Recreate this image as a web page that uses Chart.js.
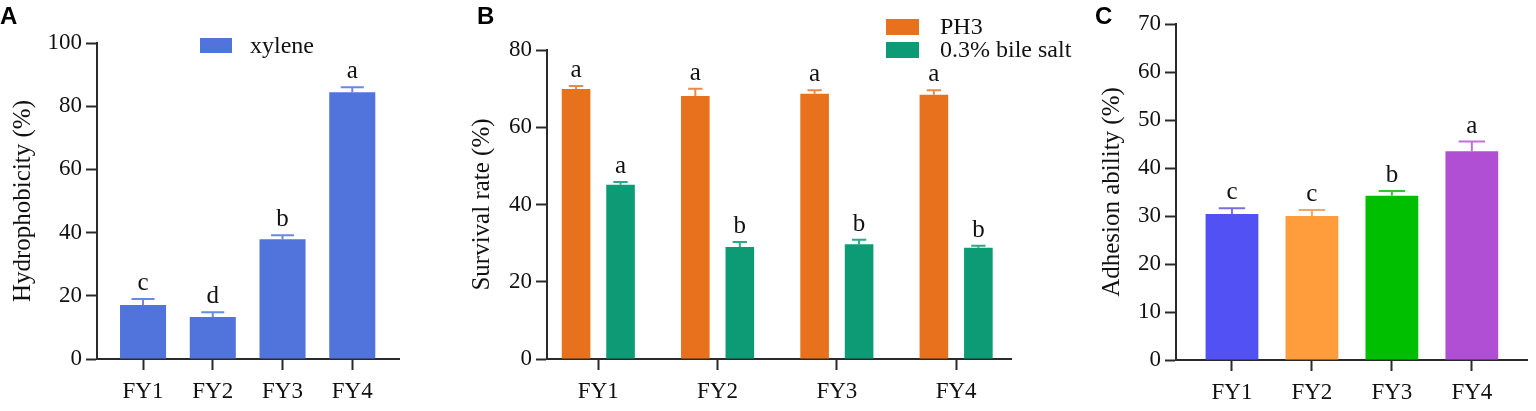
<!DOCTYPE html>
<html><head><meta charset="utf-8">
<script src="https://cdn.jsdelivr.net/npm/chart.js@4.4.1/dist/chart.umd.min.js"></script>
<style>
html,body{margin:0;padding:0;background:#fff;width:1536px;height:411px;overflow:hidden}
canvas{position:absolute;top:0}
</style></head><body>
<canvas id="cA" width="462" height="411" style="left:0px"></canvas>
<canvas id="cB" width="630" height="411" style="left:462px"></canvas>
<canvas id="cC" width="444" height="411" style="left:1092px"></canvas>
<script>
// ---------- data ----------
const categories = ['FY1', 'FY2', 'FY3', 'FY4'];

const hydroMeans   = [17.1, 13.3, 37.9, 84.4];
const hydroErrors  = [1.9, 1.5, 1.3, 1.6];
const hydroLetters = ['c', 'd', 'b', 'a'];
const hydroTicks   = [0, 20, 40, 60, 80, 100];

const ph3Means    = [69.9, 68.1, 68.7, 68.4];
const ph3Errors   = [0.8, 1.9, 0.9, 1.2];
const ph3Letters  = ['a', 'a', 'a', 'a'];
const bileMeans   = [45.1, 29.0, 29.7, 28.8];
const bileErrors  = [0.7, 1.3, 1.2, 0.5];
const bileLetters = ['a', 'b', 'b', 'b'];
const survivalTicks = [0, 20, 40, 60, 80];

const adhesionMeans   = [30.4, 30.0, 34.2, 43.5];
const adhesionErrors  = [1.2, 1.25, 1.0, 2.0];
const adhesionLetters = ['c', 'c', 'b', 'a'];
const adhesionTicks   = [0, 10, 20, 30, 40, 50, 60, 70];

// ---------- styles ----------
const SERIF = '"Liberation Serif", "Times New Roman", serif';
const AXIS = '#2a2a2a';
const toXY = arr => arr.map((v, i) => ({ x: i, y: v }));

const errorLetters = {
  id: 'errorLetters',
  afterDatasetsDraw(chart) {
    const ctx = chart.ctx, ys = chart.scales.y;
    chart.data.datasets.forEach((ds, di) => {
      const meta = chart.getDatasetMeta(di);
      meta.data.forEach((bar, i) => {
        const top = ys.getPixelForValue(ds.data[i].y + ds.errors[i]);
        const half = bar.width * 0.25;
        const col = Array.isArray(ds.errorColor) ? ds.errorColor[i] : ds.errorColor;
        ctx.save();
        ctx.strokeStyle = col; ctx.lineWidth = 2;
        ctx.beginPath();
        ctx.moveTo(bar.x, bar.y); ctx.lineTo(bar.x, top);
        ctx.moveTo(bar.x - half, top); ctx.lineTo(bar.x + half, top);
        ctx.stroke();
        ctx.fillStyle = '#111';
        ctx.font = '25px ' + SERIF;
        ctx.textAlign = 'center'; ctx.textBaseline = 'alphabetic';
        ctx.fillText(ds.letters[i], bar.x, top - 9);
        ctx.restore();
      });
    });
  }
};

const boxLegend = {
  id: 'boxLegend',
  afterDraw(chart, args, o) {
    if (!o || !o.show) return;
    const ctx = chart.ctx;
    chart.data.datasets.forEach((ds, i) => {
      const y0 = o.y + i * o.rowH;
      ctx.save();
      ctx.fillStyle = Array.isArray(ds.backgroundColor) ? ds.backgroundColor[0] : ds.backgroundColor;
      ctx.fillRect(o.x, y0, o.boxW, o.boxH);
      ctx.fillStyle = '#111';
      ctx.font = '24px ' + SERIF;
      ctx.textAlign = 'left'; ctx.textBaseline = 'middle';
      ctx.fillText(ds.label, o.x + o.boxW + o.gap, y0 + o.boxH / 2 + 1);
      ctx.restore();
    });
  }
};

const panelLabel = {
  id: 'panelLabel',
  afterDraw(chart, args, o) {
    if (!o || !o.text) return;
    const ctx = chart.ctx;
    ctx.save();
    ctx.fillStyle = '#000';
    ctx.font = 'bold 24px "Liberation Sans", Arial, sans-serif';
    ctx.textAlign = 'left'; ctx.textBaseline = 'alphabetic';
    ctx.fillText(o.text, o.x, o.y);
    ctx.restore();
  }
};

function makeChart(id, cfg) {
  return new Chart(document.getElementById(id), {
    type: 'bar',
    data: { datasets: cfg.datasets },
    options: {
      responsive: false, animation: false, devicePixelRatio: 1,
      layout: { padding: cfg.padding },
      plugins: {
        legend: { display: false }, tooltip: { enabled: false },
        boxLegend: cfg.legend || { show: false },
        panelLabel: cfg.panel
      },
      scales: {
        x: {
          type: 'linear', position: 'bottom', min: cfg.xmin, max: cfg.xmax, offset: false,
          afterBuildTicks: s => { s.ticks = categories.map((c, i) => ({ value: i })); },
          afterFit: s => { s.height = 50; },
          ticks: { callback: v => categories[v], font: { family: SERIF, size: 23 }, color: '#111', padding: 8, maxRotation: 0, autoSkip: false },
          grid: { display: true, offset: false, drawOnChartArea: false, drawTicks: true, tickLength: 11, tickWidth: 2, tickColor: AXIS },
          border: { display: true, color: AXIS, width: 2 }
        },
        y: {
          min: 0, max: cfg.ticks[cfg.ticks.length - 1],
          afterBuildTicks: s => { s.ticks = cfg.ticks.map(v => ({ value: v })); },
          afterFit: s => { s.width = cfg.yWidth; },
          ticks: { font: { family: SERIF, size: 23 }, color: '#111', padding: 4 },
          grid: { display: true, drawOnChartArea: false, drawTicks: true, tickLength: 11, tickWidth: 2, tickColor: AXIS },
          border: { display: true, color: AXIS, width: 2 },
          title: { display: true, text: cfg.yTitle, font: { family: SERIF, size: 25 }, color: '#111', padding: { top: 4, bottom: 4 } }
        }
      }
    },
    plugins: [errorLetters, boxLegend, panelLabel]
  });
}

// Panel A
makeChart('cA', {
  padding: { left: 4, top: 43, right: 63, bottom: 2 },
  yWidth: 93, xmin: -0.66, xmax: 3.67, ticks: hydroTicks,
  yTitle: 'Hydrophobicity (%)',
  panel: { text: 'A', x: 0, y: 24 },
  legend: { show: true, x: 200, y: 38, boxW: 32, boxH: 15, rowH: 23, gap: 18 },
  datasets: [{
    label: 'xylene', data: toXY(hydroMeans), errors: hydroErrors, letters: hydroLetters,
    backgroundColor: '#5173dc', errorColor: '#6a89e2',
    categoryPercentage: 1, barPercentage: 0.66
  }]
});

// Panel B
makeChart('cB', {
  padding: { left: 1, top: 50, right: 81, bottom: 2 },
  yWidth: 84, xmin: -0.43, xmax: 3.46, ticks: survivalTicks,
  yTitle: 'Survival rate (%)',
  panel: { text: 'B', x: 15, y: 24 },
  legend: { show: true, x: 424, y: 19, boxW: 33, boxH: 16, rowH: 23, gap: 21 },
  datasets: [{
    label: 'PH3', data: toXY(ph3Means), errors: ph3Errors, letters: ph3Letters,
    backgroundColor: '#e8711d', errorColor: '#ec8a45',
    categoryPercentage: 0.746, barPercentage: 0.643
  }, {
    label: '0.3% bile salt', data: toXY(bileMeans), errors: bileErrors, letters: bileLetters,
    backgroundColor: '#0c9b74', errorColor: '#2aa987',
    categoryPercentage: 0.746, barPercentage: 0.643
  }]
});

// Panel C
makeChart('cC', {
  padding: { left: 1, top: 24, right: 9, bottom: 1 },
  yWidth: 83, xmin: -0.70, xmax: 3.69, ticks: adhesionTicks,
  yTitle: 'Adhesion ability (%)',
  panel: { text: 'C', x: 3, y: 24 },
  datasets: [{
    label: 'Adhesion ability', data: toXY(adhesionMeans), errors: adhesionErrors, letters: adhesionLetters,
    backgroundColor: ['#5252f4', '#ff9c3c', '#00bf00', '#b04fd4'],
    errorColor: ['#7a6fe0', '#f5a760', '#33c633', '#c070dc'],
    categoryPercentage: 1, barPercentage: 0.66
  }]
});
</script>
</body></html>
